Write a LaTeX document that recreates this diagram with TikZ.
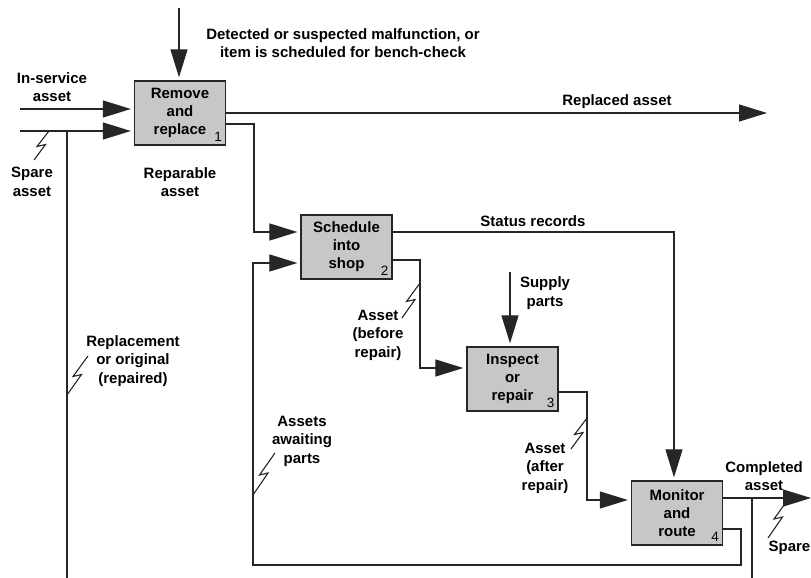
\documentclass[tikz,border=0pt]{standalone}
\usepackage{fontspec}
\setmainfont{Liberation Sans}
\usetikzlibrary{arrows.meta,calc}
\newcommand\zigzag[2]{\draw[squig] (#1) -- ($(#1)!0.5!(#2)+(-4.5,1)$) -- ($(#1)!0.5!(#2)+(4,-1)$) -- (#2);}
\begin{document}
\begin{tikzpicture}[x=1pt,y=-1pt,
  box/.style={draw=black!85,line width=1.3pt,fill=black!22,minimum width=91pt,minimum height=64pt,inner sep=0pt,align=center,font=\bfseries\fontsize{15}{18}\selectfont},
  lbl/.style={align=center,font=\bfseries\fontsize{15}{18.5}\selectfont,inner sep=0pt},
  num/.style={font=\fontsize{13.5}{13.5}\selectfont,inner sep=0pt},
  flow/.style={line width=1.2pt,draw=black!85},
  arr/.style={flow,-{Triangle[length=28pt,width=17pt]},shorten >=3pt},
  squig/.style={line width=1.1pt,draw=black!85}]
\useasboundingbox (0,0) rectangle (811,578);

% boxes
\node[box] (b1) at (180,113) {Remove\\and\\replace};
\node[box] (b2) at (346.5,247) {Schedule\\into\\shop};
\node[box] (b3) at (512.5,379) {Inspect\\or\\repair};
\node[box] (b4) at (677,513) {Monitor\\and\\route};
\node[num] (n1) at ($(b1.south east)+(-8,-9)$) {1};
\node[num] (n2) at ($(b2.south east)+(-8,-9)$) {2};
\node[num] (n3) at ($(b3.south east)+(-8,-9)$) {3};
\node[num] (n4) at ($(b4.south east)+(-8,-9)$) {4};

% coordinates
\coordinate (topin) at (179,8);
\coordinate (insvc) at (20,109);
\coordinate (spare) at (20,131);
\coordinate (sparej) at (67,131);
\coordinate (spareb) at (67,578);
\coordinate (repl) at (767,113);
\coordinate (st) at (674,232);
\coordinate (sup) at (510,272);
\coordinate (done) at (811,498);
\coordinate (donej) at (752,498);
\coordinate (doneb) at (752,578);

% connectors
\draw[arr] (topin) -- (topin |- b1.north);
\draw[arr] (insvc) -- (insvc -| b1.west);
\draw[arr] (spare) -- (spare -| b1.west);
\draw[flow] (sparej) -- (spareb);
\draw[arr,shorten >=0pt] (b1.east) -- (repl);
\draw[arr] ($(b1.east)+(0,11)$) -- (254,124) -- (254,232) -- ($(b2.west)+(0,-15)$);
\draw[arr] ($(b4.east)+(0,16)$) -- (741,529) -- (741,565) -- (253,565) -- (253,263) -- ($(b2.west)+(0,16)$);
\draw[arr] ($(b2.east)+(0,-15)$) -- (st) -- (st |- b4.north);
\draw[arr] ($(b2.east)+(0,13)$) -- (420,260) -- (420,368) -- ($(b3.west)+(0,-11)$);
\draw[arr] (sup) -- (sup |- b3.north);
\draw[arr] ($(b3.east)+(0,13)$) -- (587,392) -- (587,500) -- ($(b4.west)+(0,-13)$);
\draw[arr,shorten >=0pt] ($(b4.east)+(0,-15)$) -- (done);
\draw[flow] (donej) -- (doneb);

% squiggles
\coordinate (s1a) at (49,131);  \coordinate (s1b) at (34,160);
\coordinate (s2a) at (420,283); \coordinate (s2b) at (402,318);
\coordinate (s3a) at (88,356);  \coordinate (s3b) at (67,395);
\coordinate (s4a) at (275,453); \coordinate (s4b) at (253,495);
\coordinate (s5a) at (587,418); \coordinate (s5b) at (571,449);
\coordinate (s6a) at (789,498); \coordinate (s6b) at (768,538);
\zigzag{s1a}{s1b}
\zigzag{s2a}{s2b}
\zigzag{s3a}{s3b}
\zigzag{s4a}{s4b}
\zigzag{s5a}{s5b}
\zigzag{s6a}{s6b}

% labels
\node[lbl] (l1) at (343,43) {Detected or suspected malfunction, or\\item is scheduled for bench-check};
\node[lbl] (l2) at (52,87) {In-service\\asset};
\node[lbl] (l3) at (32,182) {Spare\\asset};
\node[lbl] (l4) at (180,182) {Reparable\\asset};
\node[lbl] (l5) at (617,102) {Replaced asset};
\node[lbl] (l6) at (533,221) {Status records};
\node[lbl] (l7) at (378,335) {Asset\\(before\\repair)};
\node[lbl] (l8) at (545,293) {Supply\\parts};
\node[lbl] (l9) at (133,361) {Replacement\\or original\\(repaired)};
\node[lbl] (l10) at (302,441) {Assets\\awaiting\\parts};
\node[lbl] (l11) at (545,468) {Asset\\(after\\repair)};
\node[lbl] (l12) at (764,476) {Completed\\asset};
\node[lbl,anchor=east] (l13) at (810.5,548) {Spare};
\end{tikzpicture}
\end{document}
